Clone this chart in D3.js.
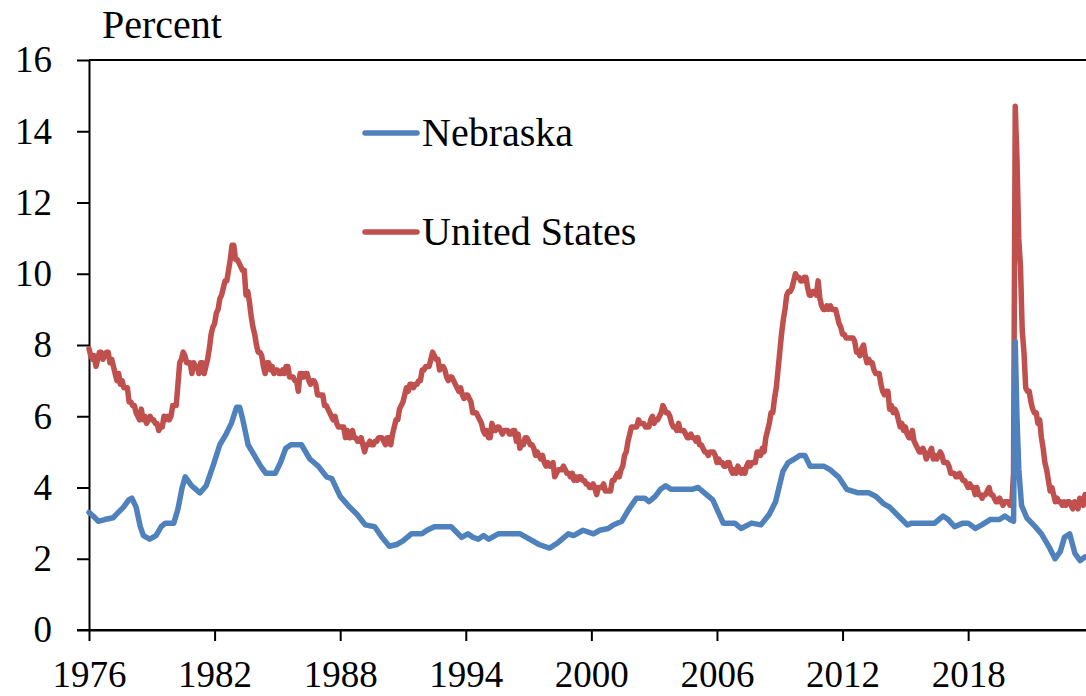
<!DOCTYPE html>
<html>
<head>
<meta charset="utf-8">
<script src="https://cdn.jsdelivr.net/npm/d3@7/dist/d3.min.js"></script>
<style>
  html, body { margin: 0; padding: 0; background: #fff; }
  svg { display: block; font-family: "Liberation Serif", "DejaVu Serif", serif; }
</style>
</head>
<body>
<svg id="chart" width="1086" height="696"></svg>
<script>
/* -----------------------------------------------------------
   DATA — unemployment rate, percent
----------------------------------------------------------- */
const seriesNames = ["Nebraska", "United States"];
const yTicks = [0, 2, 4, 6, 8, 10, 12, 14, 16];
const xTicks = [1976, 1982, 1988, 1994, 2000, 2006, 2012, 2018];

// United States, monthly from Jan 1976
const usStartYear = 1976;
const usMonthly = [
  7.9, 7.7, 7.6, 7.7, 7.4, 7.6, 7.8, 7.8, 7.6, 7.7, 7.8, 7.8,
  7.5, 7.6, 7.4, 7.2, 7.0, 7.2, 6.9, 7.0, 6.8, 6.8, 6.8, 6.4,
  6.4, 6.3, 6.3, 6.1, 6.0, 5.9, 6.2, 5.9, 6.0, 5.8, 5.9, 6.0,
  5.9, 5.9, 5.8, 5.8, 5.6, 5.7, 5.7, 6.0, 5.9, 6.0, 5.9, 6.0,
  6.3, 6.3, 6.3, 6.9, 7.5, 7.6, 7.8, 7.7, 7.5, 7.5, 7.5, 7.2,
  7.5, 7.4, 7.4, 7.2, 7.5, 7.5, 7.2, 7.4, 7.6, 7.9, 8.3, 8.5,
  8.6, 8.9, 9.0, 9.3, 9.4, 9.6, 9.8, 9.8, 10.1, 10.4, 10.8, 10.8,
  10.4, 10.4, 10.3, 10.2, 10.1, 10.1, 9.4, 9.5, 9.2, 8.8, 8.5, 8.3,
  8.0, 7.8, 7.8, 7.7, 7.4, 7.2, 7.5, 7.5, 7.3, 7.4, 7.2, 7.3,
  7.3, 7.2, 7.2, 7.3, 7.2, 7.4, 7.4, 7.1, 7.1, 7.1, 7.0, 7.0,
  6.7, 7.2, 7.2, 7.1, 7.2, 7.2, 7.0, 6.9, 7.0, 7.0, 6.9, 6.6,
  6.6, 6.6, 6.6, 6.3, 6.3, 6.2, 6.1, 6.0, 5.9, 6.0, 5.8, 5.7,
  5.7, 5.7, 5.7, 5.4, 5.6, 5.4, 5.4, 5.6, 5.4, 5.4, 5.3, 5.3,
  5.4, 5.2, 5.0, 5.2, 5.2, 5.3, 5.2, 5.2, 5.3, 5.3, 5.4, 5.4,
  5.4, 5.3, 5.2, 5.4, 5.4, 5.2, 5.5, 5.7, 5.9, 5.9, 6.2, 6.3,
  6.4, 6.6, 6.8, 6.7, 6.9, 6.9, 6.8, 6.9, 6.9, 7.0, 7.0, 7.3,
  7.3, 7.4, 7.4, 7.4, 7.6, 7.8, 7.7, 7.6, 7.6, 7.3, 7.4, 7.4,
  7.3, 7.1, 7.0, 7.1, 7.1, 7.0, 6.9, 6.8, 6.7, 6.8, 6.6, 6.5,
  6.6, 6.6, 6.5, 6.4, 6.1, 6.1, 6.1, 6.0, 5.9, 5.8, 5.6, 5.5,
  5.6, 5.4, 5.4, 5.8, 5.6, 5.6, 5.7, 5.7, 5.6, 5.5, 5.6, 5.6,
  5.6, 5.5, 5.5, 5.6, 5.6, 5.3, 5.5, 5.1, 5.2, 5.2, 5.4, 5.4,
  5.3, 5.2, 5.2, 5.1, 4.9, 5.0, 4.9, 4.8, 4.9, 4.7, 4.6, 4.7,
  4.6, 4.6, 4.7, 4.3, 4.4, 4.5, 4.5, 4.5, 4.6, 4.5, 4.4, 4.4,
  4.3, 4.4, 4.2, 4.3, 4.2, 4.3, 4.3, 4.2, 4.2, 4.1, 4.1, 4.0,
  4.0, 4.1, 4.0, 3.8, 4.0, 4.0, 4.0, 4.1, 3.9, 3.9, 3.9, 3.9,
  4.2, 4.2, 4.3, 4.4, 4.3, 4.5, 4.6, 4.9, 5.0, 5.3, 5.5, 5.7,
  5.7, 5.7, 5.7, 5.9, 5.8, 5.8, 5.8, 5.7, 5.7, 5.7, 5.9, 6.0,
  5.8, 5.9, 5.9, 6.0, 6.1, 6.3, 6.2, 6.1, 6.1, 6.0, 5.8, 5.7,
  5.7, 5.6, 5.8, 5.6, 5.6, 5.6, 5.5, 5.4, 5.4, 5.5, 5.4, 5.4,
  5.3, 5.4, 5.2, 5.2, 5.1, 5.0, 5.0, 4.9, 5.0, 5.0, 5.0, 4.9,
  4.7, 4.8, 4.7, 4.7, 4.6, 4.6, 4.7, 4.7, 4.5, 4.4, 4.5, 4.4,
  4.6, 4.5, 4.4, 4.5, 4.4, 4.6, 4.7, 4.6, 4.7, 4.7, 4.7, 5.0,
  5.0, 4.9, 5.1, 5.0, 5.4, 5.6, 5.8, 6.1, 6.1, 6.5, 6.8, 7.3,
  7.8, 8.3, 8.7, 9.0, 9.4, 9.5, 9.5, 9.6, 9.8, 10.0, 9.9, 9.9,
  9.8, 9.8, 9.9, 9.9, 9.6, 9.4, 9.4, 9.5, 9.5, 9.4, 9.8, 9.3,
  9.1, 9.0, 9.0, 9.1, 9.0, 9.1, 9.0, 9.0, 9.0, 8.8, 8.6, 8.5,
  8.3, 8.3, 8.2, 8.2, 8.2, 8.2, 8.2, 8.1, 7.8, 7.8, 7.7, 7.9,
  8.0, 7.7, 7.5, 7.6, 7.5, 7.5, 7.3, 7.2, 7.2, 7.2, 6.9, 6.7,
  6.6, 6.7, 6.7, 6.2, 6.3, 6.1, 6.2, 6.1, 5.9, 5.7, 5.8, 5.6,
  5.7, 5.5, 5.4, 5.4, 5.6, 5.3, 5.2, 5.1, 5.0, 5.0, 5.1, 5.0,
  4.8, 4.9, 5.0, 5.1, 4.8, 4.9, 4.8, 4.9, 5.0, 4.9, 4.7, 4.7,
  4.7, 4.6, 4.4, 4.4, 4.4, 4.3, 4.3, 4.4, 4.3, 4.2, 4.2, 4.1,
  4.0, 4.1, 4.0, 4.0, 3.8, 4.0, 3.8, 3.8, 3.7, 3.8, 3.8, 3.9,
  4.0, 3.8, 3.8, 3.7, 3.6, 3.6, 3.7, 3.6, 3.5, 3.6, 3.6, 3.6,
  3.5, 3.5, 4.4, 14.7, 13.2, 11.0, 10.2, 8.4, 7.8, 6.8, 6.7, 6.7,
  6.4, 6.2, 6.1, 6.1, 5.8, 5.9, 5.4, 5.1, 4.7, 4.5, 4.2, 3.9,
  4.0, 3.8, 3.6, 3.7, 3.6, 3.6, 3.5, 3.6, 3.5, 3.6, 3.6, 3.5,
  3.4, 3.6, 3.5, 3.4, 3.7, 3.6, 3.5, 3.8
];

// Nebraska as [year, percent]
const nebraska = [
  [1976.0, 3.3], [1976.2, 3.2], [1976.45, 3.05], [1976.75, 3.1],
  [1977.15, 3.15], [1977.4, 3.3], [1977.65, 3.45], [1977.9, 3.65],
  [1978.05, 3.7], [1978.25, 3.45], [1978.45, 2.9], [1978.6, 2.65],
  [1978.9, 2.55], [1979.2, 2.65], [1979.45, 2.9], [1979.65, 3.0],
  [1980.05, 3.0], [1980.25, 3.4], [1980.45, 4.0], [1980.6, 4.3],
  [1980.9, 4.05], [1981.3, 3.85], [1981.6, 4.05], [1981.95, 4.65],
  [1982.25, 5.2], [1982.55, 5.5], [1982.8, 5.8], [1983.05, 6.25],
  [1983.2, 6.25], [1983.35, 5.9], [1983.6, 5.2], [1983.9, 4.9],
  [1984.2, 4.6], [1984.45, 4.4], [1984.9, 4.4], [1985.15, 4.7],
  [1985.4, 5.1], [1985.65, 5.2], [1986.15, 5.2], [1986.55, 4.8],
  [1986.95, 4.6], [1987.35, 4.3], [1987.6, 4.25], [1988.0, 3.75],
  [1988.45, 3.45], [1988.8, 3.25], [1989.2, 2.95], [1989.65, 2.9],
  [1990.0, 2.6], [1990.35, 2.35], [1990.7, 2.4], [1991.0, 2.5],
  [1991.4, 2.7], [1991.9, 2.7], [1992.15, 2.8], [1992.5, 2.9],
  [1993.3, 2.9], [1993.55, 2.75], [1993.8, 2.6], [1994.1, 2.7],
  [1994.35, 2.6], [1994.6, 2.55], [1994.85, 2.65], [1995.1, 2.55],
  [1995.55, 2.7], [1996.6, 2.7], [1997.05, 2.55], [1997.5, 2.4],
  [1998.0, 2.3], [1998.4, 2.45], [1998.9, 2.7], [1999.15, 2.65],
  [1999.6, 2.8], [2000.1, 2.7], [2000.4, 2.8], [2000.8, 2.85],
  [2001.05, 2.95], [2001.45, 3.05], [2001.75, 3.35], [2002.15, 3.7],
  [2002.55, 3.7], [2002.75, 3.6], [2003.05, 3.75], [2003.3, 3.95],
  [2003.55, 4.05], [2003.8, 3.95], [2004.8, 3.95], [2005.1, 4.0],
  [2005.5, 3.8], [2005.8, 3.65], [2006.3, 3.0], [2006.85, 3.0],
  [2007.15, 2.85], [2007.65, 3.0], [2008.1, 2.95], [2008.5, 3.25],
  [2008.8, 3.6], [2009.15, 4.45], [2009.4, 4.7], [2009.7, 4.8],
  [2009.95, 4.9], [2010.2, 4.9], [2010.45, 4.6], [2011.1, 4.6],
  [2011.4, 4.5], [2011.8, 4.3], [2012.2, 3.95], [2012.75, 3.85],
  [2013.25, 3.85], [2013.6, 3.75], [2013.95, 3.55], [2014.25, 3.45],
  [2014.75, 3.15], [2015.1, 2.95], [2015.3, 3.0], [2016.4, 3.0],
  [2016.6, 3.1], [2016.8, 3.2], [2017.05, 3.1], [2017.35, 2.9],
  [2017.75, 3.0], [2018.0, 3.0], [2018.35, 2.85], [2018.65, 2.95],
  [2019.05, 3.1], [2019.5, 3.1], [2019.75, 3.2], [2020.0, 3.1],
  [2020.17, 3.05], [2020.25, 8.1], [2020.33, 6.0], [2020.42, 4.5],
  [2020.55, 3.5], [2020.8, 3.15], [2021.2, 2.9], [2021.5, 2.7],
  [2021.85, 2.35], [2022.15, 2.0], [2022.4, 2.2], [2022.6, 2.6],
  [2022.85, 2.7], [2023.1, 2.15], [2023.35, 1.95], [2023.58, 2.05]
];

/* -----------------------------------------------------------
   LAYOUT + SCALES
----------------------------------------------------------- */
const svg = d3.select("#chart");
const M = { left: 89, right: 1086, top: 60, bottom: 630 };
const colors = { ne: "#4F81BD", us: "#C0504D" };
const serif = '"Liberation Serif", serif';

const x = d3.scaleLinear().domain([1976, 2023.63]).range([M.left, M.right]);
const y = d3.scaleLinear().domain([0, 16]).range([M.bottom, M.top]);

const usPoints = usMonthly.map((v, i) => [usStartYear + i / 12, v]);

/* -----------------------------------------------------------
   AXES
----------------------------------------------------------- */
const yAxis = svg.append("g")
  .attr("transform", `translate(${M.left},0)`)
  .call(d3.axisLeft(y).tickValues(yTicks).tickSize(12).tickSizeOuter(0).tickPadding(25));

const xAxis = svg.append("g")
  .attr("transform", `translate(0,${M.bottom})`)
  .call(d3.axisBottom(x).tickValues(xTicks).tickFormat(d3.format("d"))
    .tickSize(11).tickSizeOuter(0).tickPadding(20));

[yAxis, xAxis].forEach((g) => {
  g.selectAll("path, line").attr("stroke", "#000").attr("stroke-width", 2);
  g.selectAll("text")
    .attr("fill", "#000")
    .style("font-family", serif)
    .style("font-size", "37px");
});

// extend x-axis line to the left tick and draw the top frame
svg.append("line")
  .attr("x1", M.left - 12).attr("x2", M.right)
  .attr("y1", M.bottom).attr("y2", M.bottom)
  .attr("stroke", "#000").attr("stroke-width", 2);
svg.append("line")
  .attr("x1", M.left).attr("x2", M.right)
  .attr("y1", M.top).attr("y2", M.top)
  .attr("stroke", "#000").attr("stroke-width", 2);

svg.append("text")
  .attr("x", 102).attr("y", 38)
  .style("font-family", serif)
  .style("font-size", "40px")
  .text("Percent");

/* -----------------------------------------------------------
   LINES
----------------------------------------------------------- */
const line = d3.line().x((d) => x(d[0])).y((d) => y(d[1]));

svg.append("path")
  .datum(usPoints)
  .attr("d", line)
  .attr("fill", "none")
  .attr("stroke", colors.us)
  .attr("stroke-width", 5.5)
  .attr("stroke-linejoin", "round")
  .attr("stroke-linecap", "round");

svg.append("path")
  .datum(nebraska)
  .attr("d", line)
  .attr("fill", "none")
  .attr("stroke", colors.ne)
  .attr("stroke-width", 5.5)
  .attr("stroke-linejoin", "round")
  .attr("stroke-linecap", "round");

/* -----------------------------------------------------------
   LEGEND
----------------------------------------------------------- */
const legend = [
  { name: seriesNames[0], color: colors.ne, y: 133 },
  { name: seriesNames[1], color: colors.us, y: 232 }
];
const lg = svg.append("g").selectAll("g").data(legend).enter().append("g");
lg.append("line")
  .attr("x1", 365).attr("x2", 417)
  .attr("y1", (d) => d.y).attr("y2", (d) => d.y)
  .attr("stroke", (d) => d.color)
  .attr("stroke-width", 5.5)
  .attr("stroke-linecap", "round");
lg.append("text")
  .attr("x", 422)
  .attr("y", (d) => d.y + 13)
  .style("font-family", serif)
  .style("font-size", "40px")
  .text((d) => d.name);
</script>
</body>
</html>
